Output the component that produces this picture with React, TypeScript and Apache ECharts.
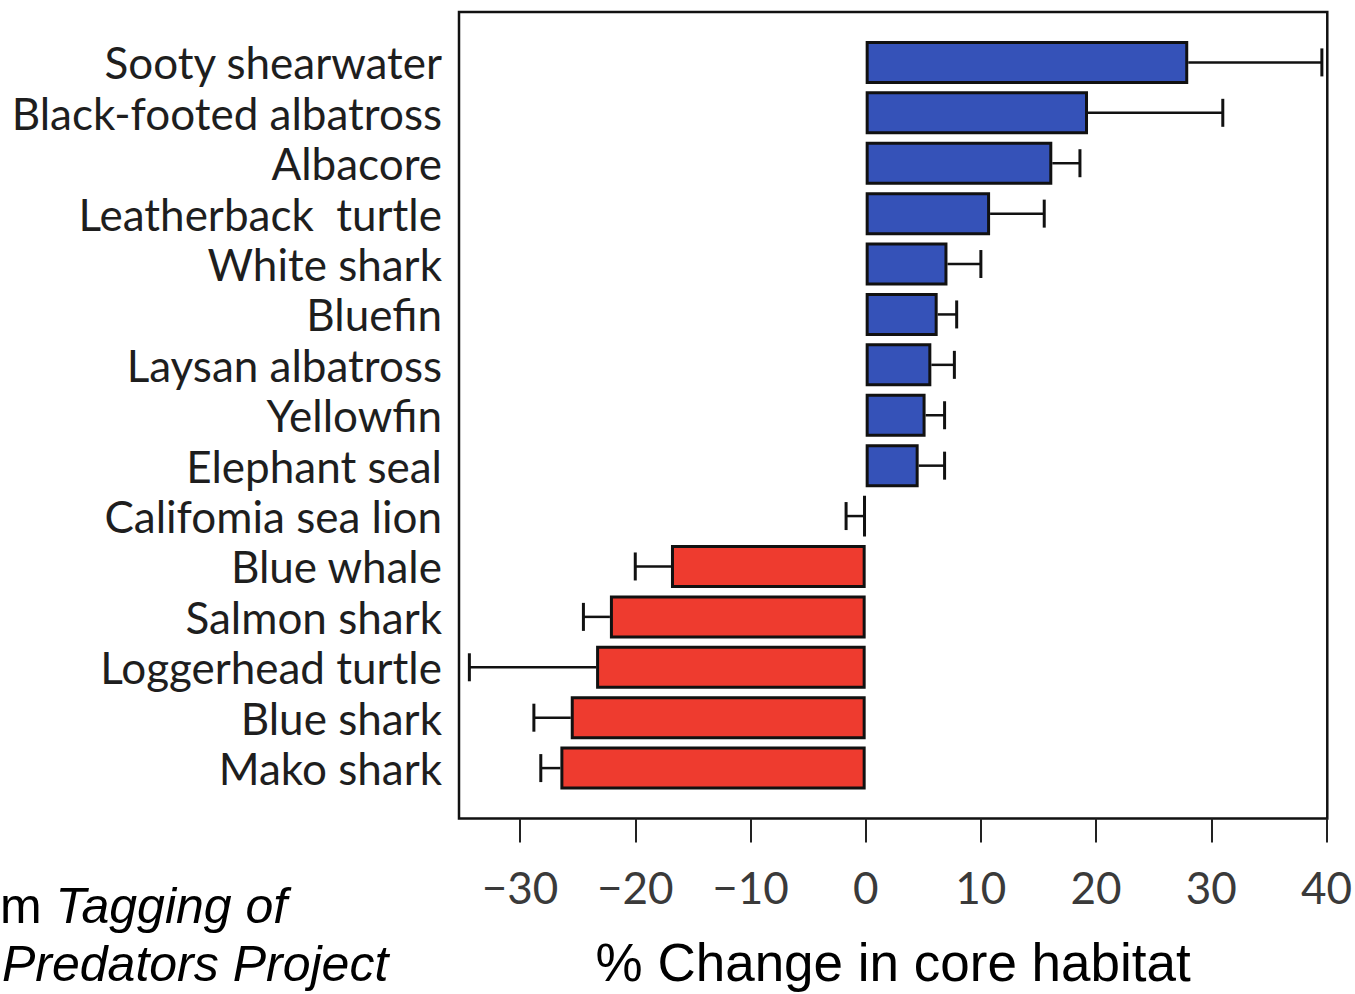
import React, { useEffect, useRef } from "react";
import * as echarts from "echarts";

const species = [
  "Sooty shearwater",
  "Black-footed albatross",
  "Albacore",
  "Leatherback  turtle",
  "White shark",
  "Bluefin",
  "Laysan albatross",
  "Yellowfin",
  "Elephant seal",
  "Califomia sea lion",
  "Blue whale",
  "Salmon shark",
  "Loggerhead turtle",
  "Blue shark",
  "Mako shark",
];

const change = [28.0, 19.3, 16.2, 10.8, 7.1, 6.25, 5.7, 5.2, 4.6, -0.2, -16.9, -22.2, -23.4, -25.6, -26.5];
const errorEnd = [39.6, 31.0, 18.6, 15.5, 10.0, 7.9, 7.7, 6.85, 6.85, -1.7, -20.0, -24.5, -34.4, -28.8, -28.2];
const tickValues = [-30, -20, -10, 0, 10, 20, 30, 40];

const BLUE = "#3552b8";
const RED = "#ee3b2f";

export default function App() {
  const ref = useRef<HTMLDivElement>(null);

  useEffect(() => {
    document.body.style.margin = "0";
    const chart = echarts.init(ref.current!, null, { renderer: "svg" });
    const cats = ["", ...species, " "];
    const barData: any[] = ["-"];
    change.forEach((v) => {
      barData.push({ value: v, itemStyle: { color: v >= 0 ? BLUE : RED } });
    });
    barData.push("-");
    const errData = change.map((v, i) => [errorEnd[i], i + 1, v]);

    chart.setOption({
      animation: false,
      backgroundColor: "#ffffff",
      grid: {
        left: 459,
        right: 27,
        top: 12,
        bottom: 170,
        show: true,
        borderColor: "#111111",
        borderWidth: 2.5,
        backgroundColor: "transparent",
      },
      xAxis: {
        type: "value",
        min: -35.3,
        max: 40.07,
        splitLine: { show: false },
        axisLine: { show: false },
        axisTick: {
          show: true,
          length: 24,
          inside: false,
          customValues: tickValues,
          lineStyle: { color: "#222222", width: 2 },
        },
        axisLabel: {
          customValues: tickValues,
          margin: 46,
          fontFamily: "Lato",
          fontSize: 44,
          color: "#3a3a3a",
          formatter: (v: number) => (v < 0 ? "\u2212" + Math.abs(v) : String(v)),
        },
        name: "% Change in core habitat",
        nameLocation: "middle",
        nameGap: 144,
        nameTextStyle: {
          fontFamily: "Liberation Sans, Arial, sans-serif",
          fontSize: 53,
          color: "#000000",
          verticalAlign: "middle",
        },
      },
      yAxis: {
        type: "category",
        data: cats,
        inverse: true,
        boundaryGap: false,
        axisLine: { show: false },
        axisTick: { show: false },
        splitLine: { show: false },
        axisLabel: {
          margin: 17,
          fontFamily: "Lato",
          fontSize: 44,
          color: "#1e1e1e",
          interval: 0,
        },
      },
      series: [
        {
          type: "bar",
          data: barData,
          barWidth: 43,
          itemStyle: { borderColor: "#111111", borderWidth: 3 },
        },
        {
          type: "custom",
          data: errData,
          encode: { x: 0, y: 1 },
          z: 3,
          renderItem: (params: any, api: any) => {
            const end = api.coord([api.value(0), api.value(1)]);
            const start = api.coord([api.value(2), api.value(1)]);
            const half = 14;
            const style = { stroke: "#111111", lineWidth: 2.5, fill: "none" };
            return {
              type: "group",
              children: [
                { type: "line", shape: { x1: start[0], y1: start[1], x2: end[0], y2: end[1] }, style },
                { type: "line", shape: { x1: end[0], y1: end[1] - half, x2: end[0], y2: end[1] + half }, style: { ...style, lineWidth: 3 } },
              ],
            };
          },
        },
      ],
      graphic: [
        {
          type: "text",
          x: 0,
          y: 906,
          style: {
            text: "{r|m}{i| Tagging of}",
            verticalAlign: "middle",
            rich: {
              r: { fontFamily: "Liberation Sans, Arial, sans-serif", fontSize: 50, fill: "#000" },
              i: { fontFamily: "Liberation Sans, Arial, sans-serif", fontSize: 50, fontStyle: "italic", fill: "#000" },
            },
          },
        },
        {
          type: "text",
          x: 2,
          y: 964,
          style: {
            text: "Predators Project",
            verticalAlign: "middle",
            fontFamily: "Liberation Sans, Arial, sans-serif",
            fontSize: 50,
            fontStyle: "italic",
            fill: "#000",
          },
        },
      ],
    });
    return () => chart.dispose();
  }, []);

  return <div ref={ref} style={{ width: 1355, height: 994 }} />;
}
